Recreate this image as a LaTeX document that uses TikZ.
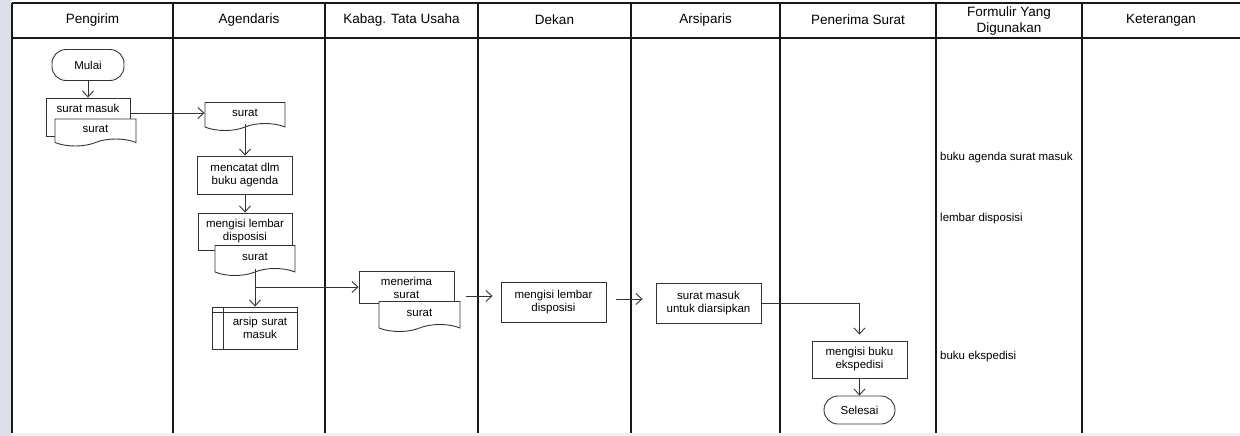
\documentclass[tikz,border=0pt]{standalone}
\usepackage{fontspec}
\setmainfont{Liberation Sans}
\usetikzlibrary{shapes.symbols,arrows.meta,calc}

\newcommand{\flowfont}{\fontsize{11.5}{13}\selectfont}
\newcommand{\headfont}{\fontsize{13.5}{15.5}\selectfont}

\begin{document}
\begin{tikzpicture}
    [x=1pt,y=-1pt,
    lane/.style={draw=black!90,line width=1.2pt},
    head/.style={font=\headfont,align=center},
    terminal/.style={draw=black!80,line width=0.9pt,rounded corners=14pt,font=\flowfont,fill=white},
    process/.style={draw=black!80,line width=0.9pt,fill=white,font=\flowfont,align=center,inner sep=2pt},
    backbox/.style={draw=black!80,line width=0.9pt,fill=white},
    doc/.style={tape,tape bend top=none,tape bend bottom=in and out,tape bend height=7pt,
        draw=black!80,line width=0.9pt,fill=white,font=\flowfont,inner sep=2pt},
    inlabel/.style={font=\flowfont,align=center,inner sep=3pt,yshift=-3pt},
    formtext/.style={font=\flowfont,anchor=west,inner sep=0pt},
    flow/.style={draw=black!80,line width=0.9pt,-{Straight Barb[length=6pt,width=11pt]}}]

    \useasboundingbox (0,0) rectangle (1240,436);
    \fill[fill={rgb,255:red,218;green,223;blue,234}] (0,0) rectangle (11,436);
    \fill[black!6] (11,433) rectangle (1240,436);

    % lanes
    \draw[lane] (12,3) -- (1240,3);
    \draw[lane] (12,38) -- (1240,38);
    \foreach \x in {12,173,325,478,631,780,936,1082}
        \draw[lane] (\x,3) -- (\x,433);

    \node[head] (hPengirim) at (92.5,20) {Pengirim};
    \node[head] (hAgendaris) at (249,20) {Agendaris};
    \node[head] (hKabag) at (401.5,20) {Kabag. Tata Usaha};
    \node[head] (hDekan) at (554.5,20) {Dekan};
    \node[head] (hArsiparis) at (705.5,20) {Arsiparis};
    \node[head] (hPenerima) at (858,20) {Penerima Surat};
    \node[head] (hFormulir) at (1009,21) {Formulir Yang\\Digunakan};
    \node[head] (hKeterangan) at (1161,20) {Keterangan};

    % pengirim
    \node[terminal,minimum width=72pt,minimum height=31pt] (mulai) at (88,65) {Mulai};
    \node[backbox,minimum width=84pt,minimum height=38pt,
        label={[inlabel,anchor=north]north:surat masuk}] (masuk) at (88,117) {};
    \node[doc,minimum width=81pt,minimum height=27pt] (surat1) at (95.5,129) {surat};

    % agendaris
    \node[doc,minimum width=80pt,minimum height=28pt] (surat2) at (245,113) {surat};
    \node[process,minimum width=95pt,minimum height=38pt] (mencatat) at (245,175) {mencatat dlm\\buku agenda};
    \node[backbox,minimum width=94pt,minimum height=37pt,
        label={[inlabel,anchor=north]north:mengisi lembar\\disposisi}] (lembar) at (245,231.5) {};
    \node[doc,minimum width=80pt,minimum height=30pt] (surat3) at (255,257) {surat};
    \node[process,minimum width=85pt,minimum height=42pt,text width=72pt] (arsip) at (255,328) {\hspace*{10pt}arsip surat\\\hspace*{10pt}masuk};
    \draw[draw=black!80,line width=0.9pt] ([yshift=-6pt]arsip.north west) -- ([yshift=-6pt]arsip.north east);
    \draw[draw=black!80,line width=0.9pt] ([xshift=11pt]arsip.north west) -- ([xshift=11pt]arsip.south west);

    % kabag
    \node[backbox,minimum width=95pt,minimum height=32pt,
        label={[inlabel,anchor=north]north:menerima\\surat}] (menerima) at (406.5,287) {};
    \node[doc,minimum width=81pt,minimum height=30pt] (surat4) at (419.5,313) {surat};

    % dekan, arsiparis, penerima
    \node[process,minimum width=105pt,minimum height=40pt] (disposisi) at (553.5,302) {mengisi lembar\\disposisi};
    \node[process,minimum width=105pt,minimum height=40pt] (arsipkan) at (708.5,303) {surat masuk\\untuk diarsipkan};
    \node[process,minimum width=95pt,minimum height=37pt] (ekspedisi) at (859.5,359.5) {mengisi buku\\ekspedisi};
    \node[terminal,minimum width=71pt,minimum height=28pt] (selesai) at (859.5,410) {Selesai};

    % formulir
    \node[formtext] (fAgenda) at (940,158) {buku agenda surat masuk};
    \node[formtext] (fLembar) at (940,219) {lembar disposisi};
    \node[formtext] (fEkspedisi) at (940,357) {buku ekspedisi};

    % arrows
    \draw[flow] (mulai) -- (masuk);
    \draw[flow] (masuk.east |- surat2.west) -- (surat2.west);
    \draw[flow] (surat2.south) -- (mencatat.north);
    \draw[flow] (mencatat) -- (lembar);
    \draw[flow] (surat3.south) -- (arsip.north);
    \draw[flow] (surat3.south |- menerima.west) -- (menerima.west);
    \draw[flow] ([shift={(6,-6)}]disposisi.west -| surat4.east) -- ([shift={(-8,-6)}]disposisi.west);
    \draw[flow] ([shift={(10,-3)}]disposisi.east) -- ([shift={(-13,-3)}]disposisi.east -| arsipkan.west);
    \draw[flow,shorten >=6pt] (arsipkan.east) -| (ekspedisi.north);
    \draw[flow] (ekspedisi) -- (selesai);
\end{tikzpicture}
\end{document}
